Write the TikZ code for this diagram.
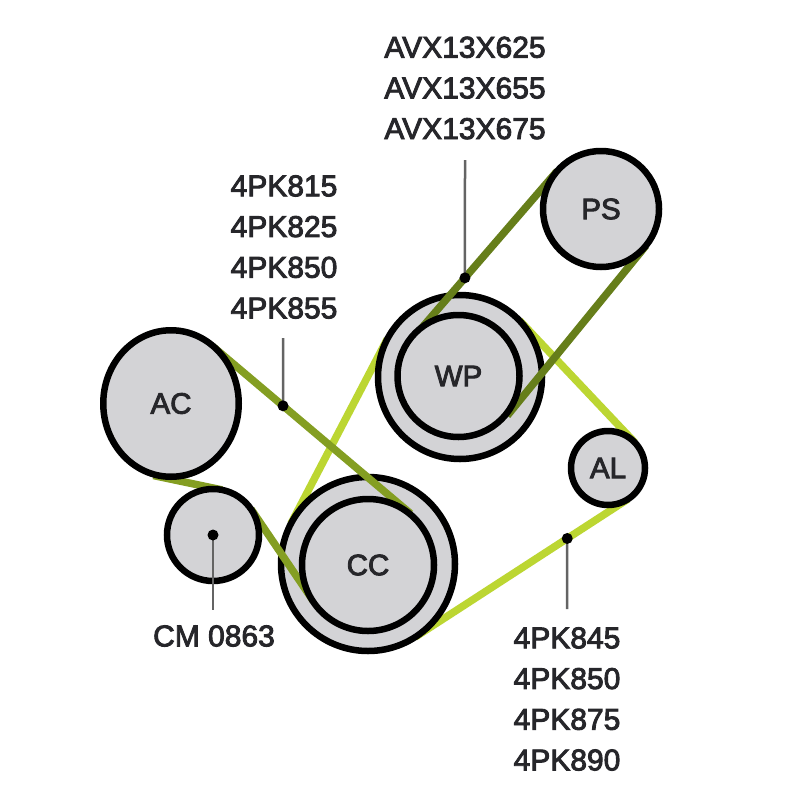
\documentclass[tikz,border=0pt]{standalone}
\usepackage{fontspec}
\setmainfont{Liberation Sans}
\newfontfamily\lblfont{Liberation Sans}[FakeBold=3]
\usetikzlibrary{calc,shapes.geometric}
\definecolor{pulleyfill}{RGB}{211,211,214}
\definecolor{beltlight}{RGB}{188,214,50}
\definecolor{beltmid}{RGB}{132,158,34}
\definecolor{beltdark}{RGB}{102,126,26}
\definecolor{txt}{RGB}{38,38,42}
\definecolor{leadercol}{RGB}{100,100,100}
\begin{document}
\begin{tikzpicture}[x=1pt,y=-1pt,
  pulley/.style={circle,draw=black,line width=6.5pt,fill=pulleyfill,inner sep=0pt,text=txt,font=\lblfont\fontsize{29.5}{34}\selectfont},
  belt/.style={line width=7.5pt},
  lbl/.style={align=center,inner sep=0pt,text=txt,font=\lblfont\fontsize{30}{40.7}\selectfont},
  leaderline/.style={draw=leadercol,line width=2.5pt},
  dotmark/.style={circle,fill=black,inner sep=0pt,minimum size=11pt}]
\useasboundingbox[fill=white] (0,0) rectangle (800,800);
% tangent points
\coordinate (L1) at (290.9,523.7);
\coordinate (L2) at (387.3,339.0);
\coordinate (L3) at (519.6,320.6);
\coordinate (L4) at (634.9,442.6);
\coordinate (L5) at (628.1,499.0);
\coordinate (L6) at (415.3,637.0);
\coordinate (D1) at (413.8,337.1);
\coordinate (D2) at (557.1,171.1);
\coordinate (D3) at (507.3,415.6);
\coordinate (D4) at (645.9,245.7);
\coordinate (M1) at (212.8,346.5);
\coordinate (M2) at (410.6,513.6);
\coordinate (M3) at (153.4,475.5);
\coordinate (M4) at (222.0,489.9);
\coordinate (M5) at (251.1,509.2);
\coordinate (M6) at (313.4,601.1);
% light belt
\draw[belt,beltlight] (L1) -- (L2);
\draw[belt,beltlight] (L3) -- (L4);
\draw[belt,beltlight] (L5) -- (L6);
% outer pulleys
\node[pulley,minimum size=164pt] (WPo) at (460,377) {};
\node[pulley,minimum size=174pt] (CCo) at (368,564) {};
\node[pulley,minimum size=74pt] (AL) at (608,468) {AL};
% mid and dark belts
\draw[belt,beltmid] (M1) -- (M2);
\draw[belt,beltmid] (M3) -- (M4);
\draw[belt,beltmid] (M5) -- (M6);
\draw[belt,beltdark] (D1) -- (D2);
\draw[belt,beltdark] (D3) -- (D4);
% other pulleys
\node[pulley,minimum size=116pt] (PS) at (601,209) {PS};
\node[pulley,minimum size=122pt] (WP) at (458.5,376) {WP};
\node[pulley,ellipse,minimum width=135.5pt,minimum height=146.5pt] (AC) at (171,403.5) {AC};
\node[pulley,minimum size=92pt] (CM) at (213,535) {};
\node[pulley,minimum size=132pt] (CC) at (368,565) {CC};
% dots
\coordinate (d1) at ($(D1)!0.357!(D2)$);
\coordinate (d2) at ($(M1)!0.355!(M2)$);
\coordinate (d3) at ($(L5)!0.286!(L6)$);
\coordinate (e1) at (465,160);
\coordinate (e2) at (283,338);
\coordinate (e3) at (213,610);
\coordinate (e4) at (567.2,609);
% labels
\node[lbl] (lab1) at (465,88) {AVX13X625\\AVX13X655\\AVX13X675};
\node[lbl] (lab2) at (284,247) {4PK815\\4PK825\\4PK850\\4PK855};
\node[lbl] (lab3) at (214,636) {CM 0863};
\node[lbl] (lab4) at (567,699) {4PK845\\4PK850\\4PK875\\4PK890};
% leaders
\draw[leaderline] (d1) -- (e1);
\draw[leaderline] (d2) -- (e2);
\draw[leaderline] (CM.center) -- (e3);
\draw[leaderline] (d3) -- (e4);
\node[dotmark] (p1) at (d1) {};
\node[dotmark] (p2) at (d2) {};
\node[dotmark] (p3) at (CM.center) {};
\node[dotmark] (p4) at (d3) {};
\end{tikzpicture}
\end{document}
